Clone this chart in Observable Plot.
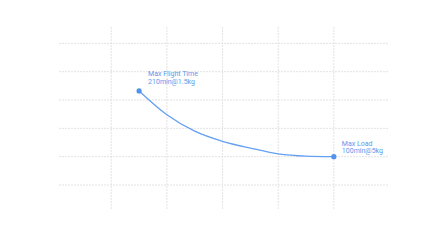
<!DOCTYPE html>
<html>
<head>
<meta charset="utf-8">
<script src="https://cdn.jsdelivr.net/npm/d3@7"></script>
<script src="https://cdn.jsdelivr.net/npm/@observablehq/plot@0.6"></script>
<style>
  html, body { margin: 0; padding: 0; background: #fff; }
  #chart svg { display: block; }
</style>
</head>
<body>
<div id="chart"></div>
<script>
// Payload (kg) vs flight time (min)
const loadKg = [1.5, 2, 2.5, 3, 3.5, 4, 4.5, 5];
const flightMin = [216, 174, 145, 127, 115, 105, 101, 100];

// Grid tick values
const xTicks = [1, 2, 3, 4, 5];
const yTicks = [50, 100, 150, 200, 250, 300];

// Annotation texts (first and last point)
const labelTitles = ["Max Flight Time", "Max Load"];
const labelValues = ["210min@1.5kg", "100min@5kg"];

const data = loadKg.map((x, i) => ({x, y: flightMin[i]}));
const first = data[0];
const last = data[data.length - 1];

const gridColor = "#e3e3e3";
const blue = "#5192ec";

const chart = Plot.plot({
  width: 443,
  height: 249,
  marginLeft: 59,
  marginRight: 54,
  marginTop: 27,
  marginBottom: 39,
  style: {fontFamily: "Roboto, 'Open Sans', sans-serif", background: "#fff"},
  x: {domain: [0.07, 6], axis: null},
  y: {domain: [5, 328], axis: null},
  marks: [
    Plot.ruleX(xTicks, {stroke: gridColor, strokeWidth: 1, strokeDasharray: "2,1"}),
    Plot.ruleY(yTicks, {stroke: gridColor, strokeWidth: 1, strokeDasharray: "2,1"}),
    Plot.line(data, {x: "x", y: "y", stroke: "#64a0f3", strokeWidth: 1.3, curve: "monotone-x"}),
    Plot.dot([first, last], {x: "x", y: "y", r: 2.6, fill: blue, stroke: "none"}),
    Plot.text([first], {
      x: "x", y: "y",
      text: () => labelTitles[0] + "\n" + labelValues[0],
      textAnchor: "start", lineAnchor: "top", lineHeight: 1.1,
      dx: 9, dy: -20, fontSize: 7, fill: "#5b98ee"
    }),
    Plot.text([last], {
      x: "x", y: "y",
      text: () => labelTitles[1] + "\n" + labelValues[1],
      textAnchor: "start", lineAnchor: "top", lineHeight: 1.1,
      dx: 8, dy: -16.5, fontSize: 7, fill: "#5b98ee"
    })
  ]
});

document.getElementById("chart").appendChild(chart);
</script>
</body>
</html>
